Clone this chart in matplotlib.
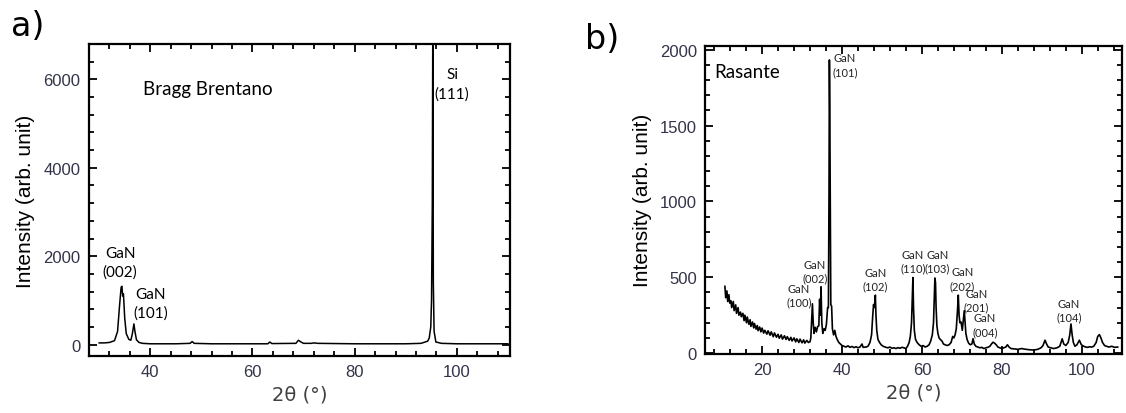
import matplotlib
matplotlib.use("Agg")
import matplotlib.pyplot as plt
from matplotlib.ticker import MultipleLocator

plt.rcParams["font.family"] = ["Liberation Sans", "DejaVu Sans"]

# a) Bragg Brentano, 2theta / intensity
bb_2theta = [30, 31, 32, 33, 33.6, 34.0, 34.3, 34.45, 34.6, 34.75, 35.0, 35.3, 35.8,
             36.2, 36.5, 36.8, 37.0, 37.3, 37.8, 38.5, 40, 45, 47.8, 48.2, 48.6,
             52, 58, 63.0, 63.4, 63.8, 68.5, 69.0, 69.5, 70.0, 71.5, 72.0, 72.8,
             80, 90, 93, 94.3, 94.6, 94.9, 95.05, 95.2, 95.3, 95.4, 95.55, 95.9,
             97, 100, 105, 110]
bb_int = [40, 40, 50, 90, 300, 900, 1300, 1320, 1100, 1150, 600, 250, 120,
          100, 250, 470, 300, 110, 50, 30, 20, 20, 30, 70, 30,
          20, 20, 20, 60, 25, 30, 100, 60, 30, 30, 40, 30,
          20, 20, 30, 80, 150, 400, 1000, 3200, 7500, 1400, 300, 60,
          30, 20, 20, 20]

# b) Rasante (grazing incidence)
gi_2theta = [10.7, 10.9, 11.2, 11.4, 11.7, 11.9, 12.2, 12.4, 12.8, 13.0, 13.4, 13.6,
             14.0, 14.2, 14.6, 14.8, 15.2, 15.5, 15.7, 16.1, 16.3, 16.7, 17.0, 17.2,
             17.6, 17.9, 18.1, 18.5, 18.8, 19.0, 19.4, 19.7, 20.0, 20.4, 20.7, 21.2,
             21.5, 22.0, 22.3, 22.8, 23.1, 23.6, 24.0, 24.3, 24.8, 25.1, 25.6, 26.0,
             26.3, 26.8, 27.2, 27.5, 28.0, 28.4, 28.7, 29.2, 29.5, 30.0, 30.4, 30.7,
             31.2, 31.6, 32.0,
             32.2, 32.4, 32.6, 32.8, 33.0, 33.3, 33.6, 33.9, 34.2, 34.4, 34.6, 34.75,
             34.95, 35.2, 35.5, 35.8, 36.1, 36.4, 36.6, 36.75, 36.85, 36.95, 37.05, 37.2,
             37.4, 37.6, 37.9, 38.2, 38.5, 38.8, 39.2, 39.6, 40.0, 40.5, 41.0, 41.5,
             42.0, 42.5, 43.0, 43.5, 44.0, 44.5, 45.0, 45.3, 46.0, 46.5, 47.0, 47.4,
             47.7, 47.9, 48.05, 48.2, 48.35, 48.5, 48.7, 49.0, 49.4, 49.8, 50.3, 51.0,
             51.5, 52.0, 52.5, 53.0, 53.5, 54.0, 54.5, 55.0, 55.5, 56.0, 56.4, 56.8,
             57.1, 57.4, 57.6, 57.75, 57.9, 58.1, 58.4, 58.8, 59.3, 59.8, 60.3, 60.8,
             61.3, 61.8, 62.2, 62.6, 62.9, 63.1, 63.25, 63.4, 63.55, 63.75, 64.0, 64.3,
             64.6, 65.0, 65.4, 65.8, 66.3, 66.8, 67.3, 67.7, 68.0, 68.3, 68.6, 68.9,
             69.1, 69.3, 69.5, 69.8, 70.1, 70.4, 70.6, 70.8, 71.0, 71.3, 71.7, 72.1,
             72.5, 72.8, 73.1, 73.5, 74.0, 74.5, 75.0, 75.5, 76.0, 76.5, 77.0, 77.4,
             77.8, 78.2, 78.6, 79.0, 79.5, 80.0, 80.5, 81.0, 81.4, 81.8, 82.3, 83.0,
             84.0, 85.0, 86.0, 87.0, 88.0, 89.0, 89.8, 90.3, 90.8, 91.2, 91.6, 92.2,
             93.0, 93.8, 94.5, 95.1, 95.5, 96.0, 96.6, 97.0, 97.3, 97.6, 97.9, 98.3,
             98.8, 99.4, 99.9, 100.5, 101.0, 101.5, 102.0, 102.5, 103.0, 103.6, 104.0, 104.4,
             104.8, 105.2, 105.7, 106.2, 106.8, 107.5, 108.2, 109.0]
gi_int = [440, 365, 410, 340, 385, 330, 345, 300, 340, 280, 318, 262,
          300, 250, 270, 240, 262, 214, 250, 200, 238, 190, 220, 176,
          205, 166, 195, 158, 182, 148, 172, 140, 165, 132, 150, 125,
          147, 118, 140, 108, 133, 105, 124, 98, 120, 92, 114, 90,
          108, 84, 104, 80, 100, 74, 94, 70, 92, 68, 87, 66,
          84, 70, 75,
          100, 220, 325, 200, 130, 170, 140, 175, 180, 355, 250, 437,
          200, 130, 160, 150, 190, 300, 300, 1050, 1932, 1610, 1050, 320,
          310, 160, 120, 150, 110, 90, 70, 60, 50, 45, 40, 48,
          38, 44, 36, 42, 35, 40, 60, 38, 40, 45, 70, 120,
          250, 320, 300, 330, 382, 250, 150, 90, 70, 55, 45, 38,
          35, 40, 32, 35, 30, 36, 32, 38, 35, 30, 45, 70,
          110, 200, 360, 498, 300, 150, 90, 70, 55, 45, 50, 40,
          45, 55, 80, 120, 200, 380, 495, 465, 300, 180, 130, 100,
          90, 80, 60, 55, 50, 55, 70, 110, 100, 120, 160, 280,
          382, 250, 200, 205, 150, 230, 280, 200, 130, 90, 65, 55,
          60, 95, 60, 45, 40, 35, 38, 30, 35, 38, 45, 60,
          72, 65, 55, 40, 35, 30, 35, 40, 55, 40, 30, 28,
          25, 30, 25, 22, 20, 25, 35, 50, 85, 60, 40, 35,
          30, 35, 45, 94, 60, 50, 70, 120, 192, 120, 70, 45,
          55, 85, 55, 45, 40, 38, 42, 40, 45, 70, 110, 122,
          100, 70, 50, 45, 40, 45, 38, 40]

bb_labels = ["GaN\n(002)", "GaN\n(101)", "Si\n(111)"]
bb_label_pos = [(34.1, 1855), (40.1, 943), (99.1, 5900)]

gi_labels = ["GaN\n(100)", "GaN\n(002)", "GaN\n(101)", "GaN\n(102)", "GaN\n(110)",
             "GaN\n(103)", "GaN\n(202)", "GaN\n(201)", "GaN\n(004)", "GaN\n(104)"]
gi_label_pos = [(29.2, 383), (33.2, 540), (40.7, 1900), (48.4, 487), (57.8, 606),
                (63.9, 606), (70.1, 491), (73.7, 350), (75.8, 187), (96.8, 285)]

tick_color = "#33334a"
label_font = "Lato"

fig = plt.figure(figsize=(11.26, 4.14), dpi=100)
ax1 = fig.add_axes([0.0790, 0.1377, 0.3739, 0.7536])
ax2 = fig.add_axes([0.6264, 0.1432, 0.3698, 0.7440])

ax1.plot(bb_2theta, bb_int, color="black", lw=1.1)
ax2.plot(gi_2theta, gi_int, color="black", lw=1.2)

ax1.set_xlim(28, 110.4)
ax1.set_ylim(-256, 6800)
ax1.xaxis.set_major_locator(MultipleLocator(20))
ax1.xaxis.set_minor_locator(MultipleLocator(4))
ax1.yaxis.set_major_locator(MultipleLocator(2000))
ax1.yaxis.set_minor_locator(MultipleLocator(400))

ax2.set_xlim(5.8, 110)
ax2.set_ylim(-4, 2026)
ax2.xaxis.set_major_locator(MultipleLocator(20))
ax2.xaxis.set_minor_locator(MultipleLocator(4))
ax2.yaxis.set_major_locator(MultipleLocator(500))
ax2.yaxis.set_minor_locator(MultipleLocator(100))

for ax in (ax1, ax2):
    for s in ax.spines.values():
        s.set_linewidth(1.6)
    ax.tick_params(which="both", direction="in", top=True, right=True, width=1.3,
                   labelsize=12, labelcolor=tick_color)
    ax.tick_params(which="major", length=6, pad=6)
    ax.tick_params(which="minor", length=3.5)
    ax.set_ylabel("Intensity (arb. unit)", fontsize=15, labelpad=6)
    ax.set_xlabel("2θ (°)", fontsize=14, family="DejaVu Sans", color="#404040",
                  labelpad=4)

ax1.text(38.6, 5800, "Bragg Brentano", fontsize=13.5, family=label_font, va="center")
for t, (x, y) in zip(bb_labels, bb_label_pos):
    ax1.text(x, y, t, fontsize=11, family=label_font, ha="center", va="center",
             linespacing=1.4)

ax2.text(8.0, 1856, "Rasante", fontsize=13.5, family=label_font, va="center")
for t, (x, y) in zip(gi_labels, gi_label_pos):
    ax2.text(x, y, t, fontsize=8, family=label_font, ha="center", va="center",
             linespacing=1.3, color="#222222")

fig.text(0.025, 0.935, "a)", fontsize=24, family="DejaVu Sans", ha="center", va="center")
fig.text(0.535, 0.905, "b)", fontsize=24, family="DejaVu Sans", ha="center", va="center")

fig.savefig("out.png", dpi=100)
